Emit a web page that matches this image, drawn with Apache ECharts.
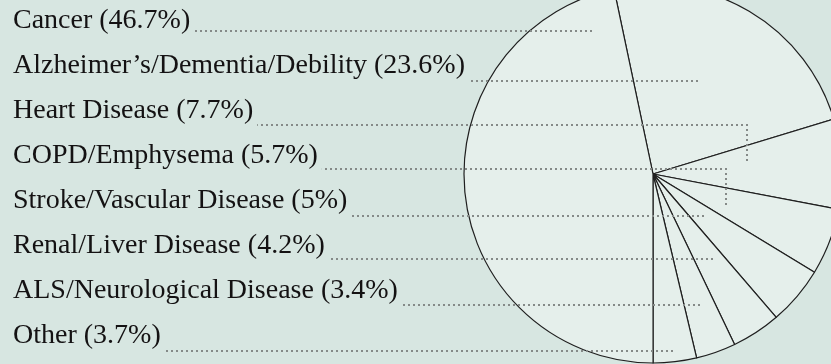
<!DOCTYPE html>
<html>
<head>
<meta charset="utf-8">
<script src="https://cdn.jsdelivr.net/npm/echarts@6/dist/echarts.min.js"></script>
<style>
  html, body { margin: 0; padding: 0; background: #d7e6e1; }
  #main { width: 831px; height: 364px; }
</style>
</head>
<body>
<div id="main"></div>
<script>
// 标签顺序（左侧列表从上到下）
const causes = ['Cancer', 'Alzheimer\u2019s/Dementia/Debility', 'Heart Disease', 'COPD/Emphysema',
    'Stroke/Vascular Disease', 'Renal/Liver Disease', 'ALS/Neurological Disease', 'Other'];
const percents = [46.7, 23.6, 7.7, 5.7, 5, 4.2, 3.4, 3.7];
// 饼图顺时针顺序：从 Alzheimer's 开始，Cancer 最后
const sliceOrder = [1, 2, 3, 4, 5, 6, 7, 0];

// 版式（引线终点，像素）
const rowTop = 21, rowGap = 45;
const leaderDy = [10, 15, 14, 13, 15, 13, 14, 15];
const leaderEnd = [[592, null], [698, null], [747, 161], [726, 205], [704, null], [713, null], [700, null], [673, null]];

const pieData = sliceOrder.map(function (i) {
    return { name: causes[i], value: percents[i] };
});

const pieBase = {
    type: 'pie',
    center: [653, 174],
    radius: 189,
    startAngle: 101.9,
    clockwise: true,
    avoidLabelOverlap: false,
    silent: true,
    data: pieData
};

let myChart = echarts.init(document.getElementById('main'));
let option = {
    backgroundColor: '#d7e6e1',
    animation: false,
    series: [
        // 扇区
        Object.assign({}, pieBase, {
            z: 2,
            itemStyle: { color: '#e5efeb', borderColor: '#1f1f1f', borderWidth: 1.2 },
            label: { show: false },
            labelLine: { show: false }
        }),
        // 标签和点状引线（透明扇区，叠在上面）
        Object.assign({}, pieBase, {
            z: 3,
            itemStyle: { color: 'rgba(0,0,0,0)', borderWidth: 0 },
            label: {
                show: true,
                position: 'outside',
                formatter: '{b} ({c}%)',
                color: '#141213',
                fontFamily: '"Liberation Serif", "DejaVu Serif", serif',
                fontSize: 28
            },
            labelLine: {
                show: true,
                length: 0,
                length2: 0,
                smooth: false,
                lineStyle: { color: '#858a88', width: 2, type: [2, 3] }
            },
            labelLayout: function (params) {
                const row = sliceOrder[params.dataIndex];
                const y = rowTop + rowGap * row;
                const ly = y + leaderDy[row];
                const x0 = 13 + params.labelRect.width + 4;
                const end = leaderEnd[row];
                let pts;
                if (end[1] == null) {
                    pts = [[end[0], ly], [end[0], ly], [x0, ly]];
                } else {
                    pts = [[end[0], end[1]], [end[0], ly], [x0, ly]];
                }
                return {
                    x: 13,
                    y: y,
                    align: 'left',
                    verticalAlign: 'middle',
                    labelLinePoints: pts
                };
            }
        })
    ]
};
myChart.setOption(option);
</script>
</body>
</html>
